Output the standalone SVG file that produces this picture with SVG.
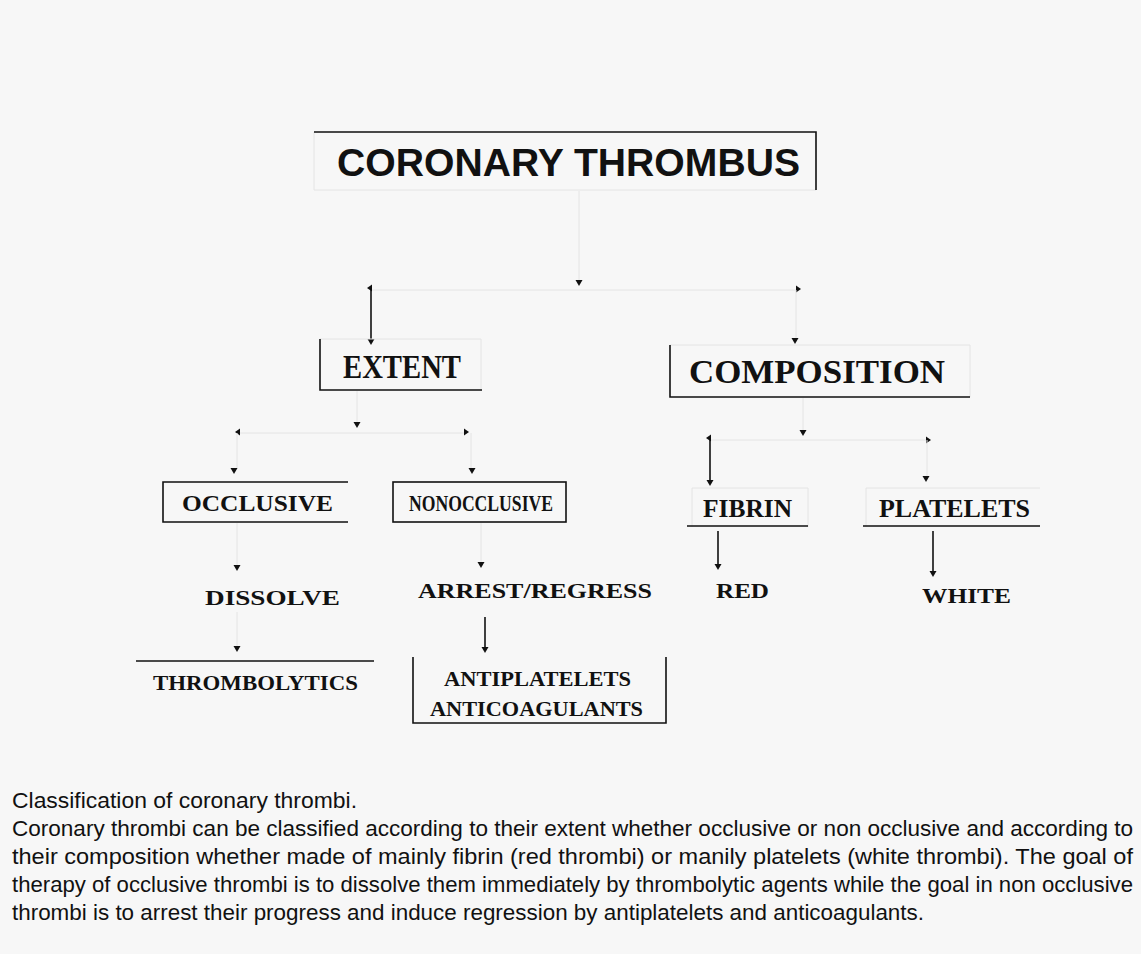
<svg xmlns="http://www.w3.org/2000/svg" xmlns:xlink="http://www.w3.org/1999/xlink" width="1141" height="954" viewBox="0 0 1141 954">
<style>
.solid{stroke:#111;stroke-width:1.6;fill:none}
.faint{stroke:#e4e4e4;stroke-width:1;fill:none}
.sans{font-family:"Liberation Sans",Arial,sans-serif;font-weight:bold;fill:#111}
.serif{font-family:"Liberation Serif","Times New Roman",serif;font-weight:bold;fill:#111}
.cap{font-family:"Liberation Sans",Arial,sans-serif;font-size:22px;fill:#111}
.head{fill:#111}
</style>
<defs>
<path id="ad" d="M-3.5,-6 L3.5,-6 L0,0 Z"/>
<path id="al" d="M0,0 L5,-3.5 L5,3.5 Z"/>
<path id="ar" d="M0,0 L-5,-3.5 L-5,3.5 Z"/>
</defs>
<rect width="1141" height="954" fill="#f7f7f7"/>

<g id="connectors">
  <!-- root fork -->
  <line class="faint" x1="579" y1="191" x2="579" y2="281"/>
  <use href="#ad" x="579" y="286" class="head"/>
  <line class="faint" x1="371" y1="290" x2="797" y2="290"/>
  <use href="#al" x="367" y="288" class="head"/>
  <use href="#ar" x="801" y="289" class="head"/>
  <line class="solid" x1="371" y1="288" x2="371" y2="340"/>
  <use href="#ad" x="371" y="345" class="head"/>
  <line class="faint" x1="796" y1="290" x2="796" y2="338"/>
  <use href="#ad" x="795" y="344" class="head"/>
  <!-- extent fork -->
  <line class="faint" x1="357" y1="391" x2="357" y2="423"/>
  <use href="#ad" x="357" y="428" class="head"/>
  <line class="faint" x1="238" y1="433" x2="467" y2="433"/>
  <use href="#al" x="235" y="432" class="head"/>
  <use href="#ar" x="469" y="432" class="head"/>
  <line class="faint" x1="237" y1="433" x2="237" y2="468"/>
  <use href="#ad" x="234" y="474" class="head"/>
  <line class="faint" x1="471" y1="433" x2="471" y2="468"/>
  <use href="#ad" x="472" y="474" class="head"/>
  <!-- occlusive chain -->
  <line class="faint" x1="237" y1="523" x2="237" y2="566"/>
  <use href="#ad" x="237" y="571" class="head"/>
  <line class="faint" x1="237" y1="612" x2="237" y2="647"/>
  <use href="#ad" x="237" y="652" class="head"/>
  <!-- nonocclusive chain -->
  <line class="faint" x1="481" y1="523" x2="481" y2="563"/>
  <use href="#ad" x="481" y="568" class="head"/>
  <line class="solid" x1="485" y1="617" x2="485" y2="648"/>
  <use href="#ad" x="485" y="653" class="head"/>
  <!-- composition fork -->
  <line class="faint" x1="803" y1="398" x2="803" y2="430"/>
  <use href="#ad" x="803" y="436" class="head"/>
  <line class="faint" x1="710" y1="440" x2="927" y2="440"/>
  <use href="#al" x="706" y="438" class="head"/>
  <use href="#ar" x="931" y="440" class="head"/>
  <line class="solid" x1="710" y1="438" x2="710" y2="480"/>
  <use href="#ad" x="710" y="486" class="head"/>
  <line class="faint" x1="927" y1="440" x2="927" y2="476"/>
  <use href="#ad" x="926" y="482" class="head"/>
  <!-- fibrin / platelets -->
  <line class="solid" x1="718" y1="531" x2="718" y2="565"/>
  <use href="#ad" x="718" y="570" class="head"/>
  <line class="solid" x1="933" y1="531" x2="933" y2="572"/>
  <use href="#ad" x="933" y="577" class="head"/>
</g>

<g id="root">
  <path class="faint" d="M314,132 V190 H816"/>
  <path class="solid" d="M314,132 H816 V190"/>
  <text class="sans" x="337" y="176" font-size="39" textLength="463" lengthAdjust="spacingAndGlyphs">CORONARY THROMBUS</text>
</g>

<g id="extent">
  <path class="faint" d="M320,339 H481 V390"/>
  <path class="solid" d="M320,339 V390 H482"/>
  <text class="serif" x="343" y="378" font-size="33" textLength="118" lengthAdjust="spacingAndGlyphs">EXTENT</text>
</g>

<g id="composition">
  <path class="faint" d="M670,345 H970 V397"/>
  <path class="solid" d="M670,345 V397 H970"/>
  <text class="serif" x="689" y="383" font-size="33" textLength="256" lengthAdjust="spacingAndGlyphs">COMPOSITION</text>
</g>

<g id="occlusive">
  <path class="solid" d="M348,482 H163 V522 H348"/>
  <text class="serif" x="182" y="511" font-size="23" textLength="151" lengthAdjust="spacingAndGlyphs">OCCLUSIVE</text>
</g>

<g id="nonocclusive">
  <rect class="solid" x="393" y="482" width="173" height="40"/>
  <text class="serif" x="409" y="511" font-size="23" textLength="144" lengthAdjust="spacingAndGlyphs">NONOCCLUSIVE</text>
</g>

<g id="dissolve">
  <text class="serif" x="205" y="605" font-size="22" textLength="135" lengthAdjust="spacingAndGlyphs">DISSOLVE</text>
</g>

<g id="thrombolytics">
  <line class="solid" x1="136" y1="661" x2="374" y2="661"/>
  <text class="serif" x="153" y="690" font-size="22" textLength="205" lengthAdjust="spacingAndGlyphs">THROMBOLYTICS</text>
</g>

<g id="arrest">
  <text class="serif" x="418" y="598" font-size="22" textLength="234" lengthAdjust="spacingAndGlyphs">ARREST/REGRESS</text>
</g>

<g id="antiplatelets">
  <path class="solid" d="M413,657 V723 H666 V657"/>
  <text class="serif" x="444" y="686" font-size="22" textLength="187" lengthAdjust="spacingAndGlyphs">ANTIPLATELETS</text>
  <text class="serif" x="430" y="716" font-size="22" textLength="213" lengthAdjust="spacingAndGlyphs">ANTICOAGULANTS</text>
</g>

<g id="fibrin">
  <path class="faint" d="M692,527 V488 H808 V527"/>
  <line class="solid" x1="687" y1="526" x2="808" y2="526"/>
  <text class="serif" x="703" y="517" font-size="25" textLength="89" lengthAdjust="spacingAndGlyphs">FIBRIN</text>
</g>

<g id="platelets">
  <path class="faint" d="M866,527 V488 H1040"/>
  <line class="solid" x1="863" y1="526" x2="1040" y2="526"/>
  <text class="serif" x="879" y="517" font-size="25" textLength="151" lengthAdjust="spacingAndGlyphs">PLATELETS</text>
</g>

<g id="red">
  <text class="serif" x="716" y="598" font-size="22" textLength="53" lengthAdjust="spacingAndGlyphs">RED</text>
</g>

<g id="white">
  <text class="serif" x="922" y="603" font-size="22" textLength="89" lengthAdjust="spacingAndGlyphs">WHITE</text>
</g>

<g id="caption">
  <text class="cap" x="12" y="808" textLength="345" lengthAdjust="spacingAndGlyphs">Classification of coronary thrombi.</text>
  <text class="cap" x="12" y="836" textLength="1121" lengthAdjust="spacingAndGlyphs">Coronary thrombi can be classified according to their extent whether occlusive or non occlusive and according to</text>
  <text class="cap" x="12" y="864" textLength="1121" lengthAdjust="spacingAndGlyphs">their composition whether made of mainly fibrin (red thrombi) or manily platelets (white thrombi). The goal of</text>
  <text class="cap" x="12" y="892" textLength="1121" lengthAdjust="spacingAndGlyphs">therapy of occlusive thrombi is to dissolve them immediately by thrombolytic agents while the goal in non occlusive</text>
  <text class="cap" x="12" y="920" textLength="912" lengthAdjust="spacingAndGlyphs">thrombi is to arrest their progress and induce regression by antiplatelets and anticoagulants.</text>
</g>
</svg>
